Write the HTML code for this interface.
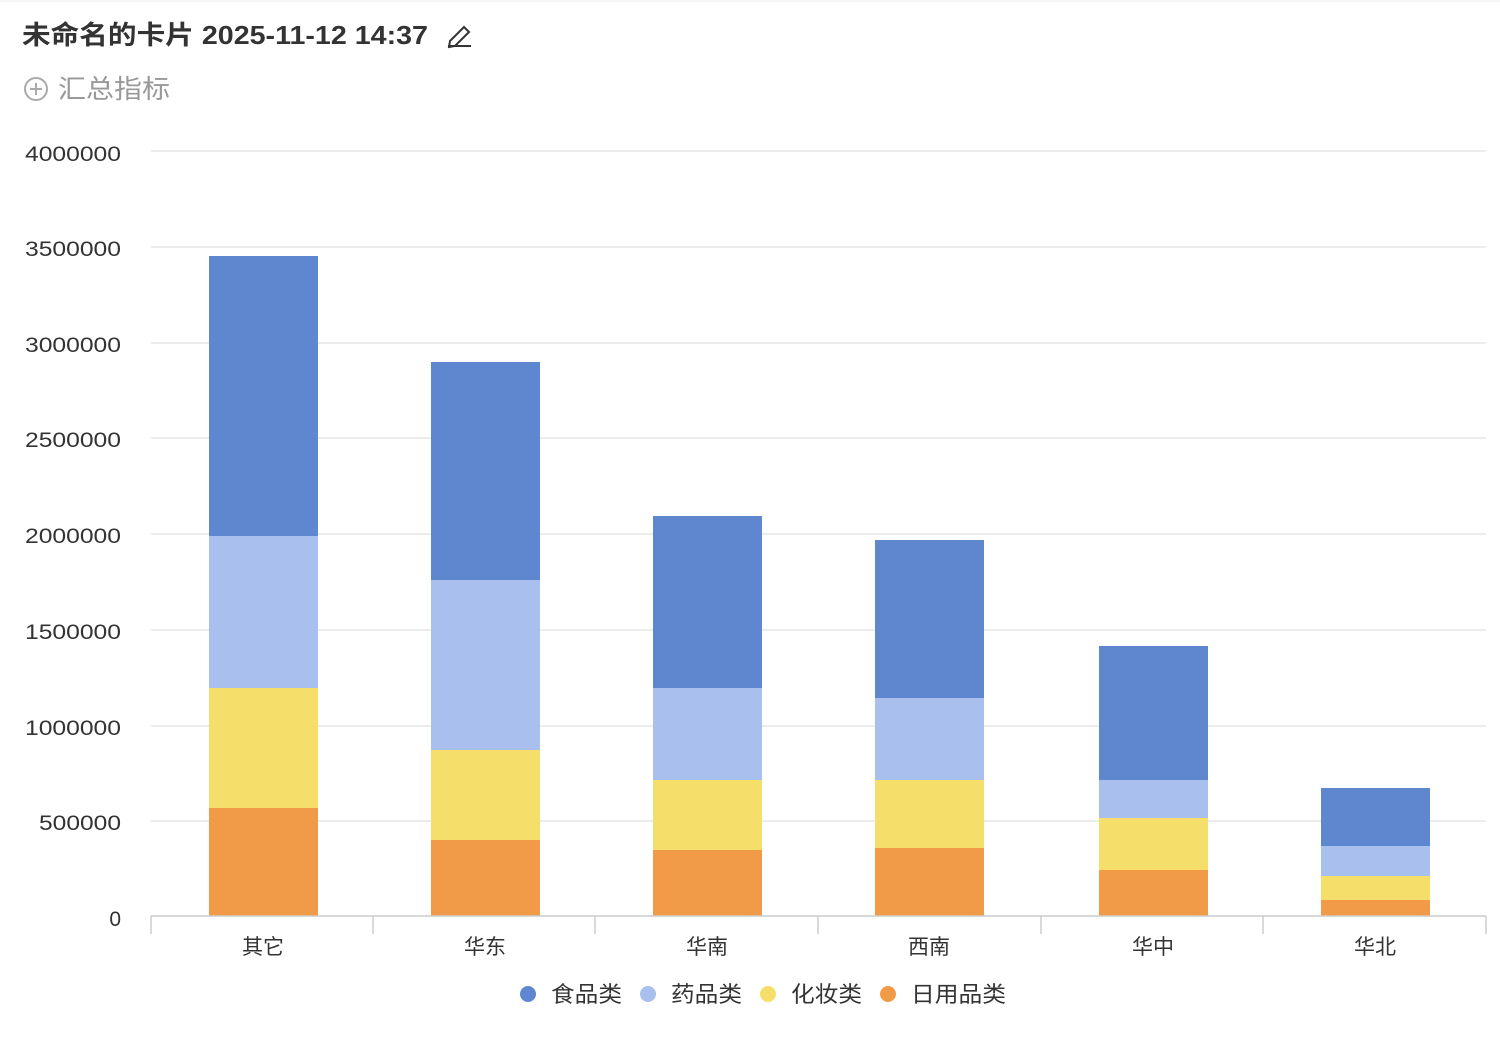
<!DOCTYPE html>
<html><head><meta charset="utf-8"><style>
body{margin:0;width:1500px;height:1036px;background:#fff;overflow:hidden;font-family:"Liberation Sans","Noto Sans CJK SC",sans-serif;}
</style></head><body>
<svg width="1500" height="1036" xmlns="http://www.w3.org/2000/svg" font-family="Liberation Sans, Noto Sans CJK SC, sans-serif">
<rect x="0" y="0" width="1500" height="1036" fill="#fff"/>
<line x1="0" y1="1" x2="1500" y2="1" stroke="#eee"/>
<text x="22" y="44" font-size="26" font-weight="bold" fill="#333" textLength="406" lengthAdjust="spacingAndGlyphs">未命名的卡片 2025-11-12 14:37</text>
<g stroke="#333" stroke-width="2" fill="none"><path d="M450 41 L464 27 L469 32 L455 46 L449 47 Z"/><line x1="448" y1="46" x2="471" y2="46"/></g>
<circle cx="36" cy="89" r="11" fill="none" stroke="#aaa" stroke-width="2"/>
<line x1="30" y1="89" x2="42" y2="89" stroke="#aaa" stroke-width="2"/><line x1="36" y1="83" x2="36" y2="95" stroke="#aaa" stroke-width="2"/>
<text x="58" y="98" font-size="26" fill="#999" textLength="112" lengthAdjust="spacingAndGlyphs">汇总指标</text>
<g stroke="#e5e5e5" stroke-width="1.5">
<line x1="151" y1="151" x2="1486" y2="151"/><line x1="151" y1="247" x2="1486" y2="247"/>
<line x1="151" y1="343" x2="1486" y2="343"/><line x1="151" y1="438" x2="1486" y2="438"/>
<line x1="151" y1="534" x2="1486" y2="534"/><line x1="151" y1="630" x2="1486" y2="630"/>
<line x1="151" y1="726" x2="1486" y2="726"/><line x1="151" y1="821" x2="1486" y2="821"/>
</g>
<g font-size="21" fill="#333">
<text x="25" y="161" textLength="96" lengthAdjust="spacingAndGlyphs">4000000</text>
<text x="25" y="256" textLength="96" lengthAdjust="spacingAndGlyphs">3500000</text>
<text x="25" y="352" textLength="96" lengthAdjust="spacingAndGlyphs">3000000</text>
<text x="25" y="447" textLength="96" lengthAdjust="spacingAndGlyphs">2500000</text>
<text x="25" y="543" textLength="96" lengthAdjust="spacingAndGlyphs">2000000</text>
<text x="25" y="639" textLength="96" lengthAdjust="spacingAndGlyphs">1500000</text>
<text x="25" y="735" textLength="96" lengthAdjust="spacingAndGlyphs">1000000</text>
<text x="39" y="830" textLength="82" lengthAdjust="spacingAndGlyphs">500000</text>
<text x="121" y="926" text-anchor="end">0</text>
</g>
<g>
<rect x="209" y="808" width="109" height="108" fill="#f19a48"/><rect x="209" y="688" width="109" height="120" fill="#f5df6a"/><rect x="209" y="536" width="109" height="152" fill="#a9bfee"/><rect x="209" y="256" width="109" height="280" fill="#5f87cf"/>
<rect x="431" y="840" width="109" height="76" fill="#f19a48"/><rect x="431" y="750" width="109" height="90" fill="#f5df6a"/><rect x="431" y="580" width="109" height="170" fill="#a9bfee"/><rect x="431" y="362" width="109" height="218" fill="#5f87cf"/>
<rect x="653" y="850" width="109" height="66" fill="#f19a48"/><rect x="653" y="780" width="109" height="70" fill="#f5df6a"/><rect x="653" y="688" width="109" height="92" fill="#a9bfee"/><rect x="653" y="516" width="109" height="172" fill="#5f87cf"/>
<rect x="875" y="848" width="109" height="68" fill="#f19a48"/><rect x="875" y="780" width="109" height="68" fill="#f5df6a"/><rect x="875" y="698" width="109" height="82" fill="#a9bfee"/><rect x="875" y="540" width="109" height="158" fill="#5f87cf"/>
<rect x="1099" y="870" width="109" height="46" fill="#f19a48"/><rect x="1099" y="818" width="109" height="52" fill="#f5df6a"/><rect x="1099" y="780" width="109" height="38" fill="#a9bfee"/><rect x="1099" y="646" width="109" height="134" fill="#5f87cf"/>
<rect x="1321" y="900" width="109" height="16" fill="#f19a48"/><rect x="1321" y="876" width="109" height="24" fill="#f5df6a"/><rect x="1321" y="846" width="109" height="30" fill="#a9bfee"/><rect x="1321" y="788" width="109" height="58" fill="#5f87cf"/>
</g>
<g stroke="#ccc" stroke-width="1.5">
<line x1="151" y1="916" x2="1486" y2="916"/>
<line x1="151" y1="916" x2="151" y2="934"/><line x1="373" y1="916" x2="373" y2="934"/><line x1="595" y1="916" x2="595" y2="934"/>
<line x1="818" y1="916" x2="818" y2="934"/><line x1="1041" y1="916" x2="1041" y2="934"/><line x1="1263" y1="916" x2="1263" y2="934"/><line x1="1486" y1="916" x2="1486" y2="934"/>
</g>
<g font-size="21" fill="#333" text-anchor="middle">
<text x="263" y="954">其它</text><text x="485" y="954">华东</text><text x="707" y="954">华南</text>
<text x="929" y="954">西南</text><text x="1153" y="954">华中</text><text x="1375" y="954">华北</text>
</g>
<g font-size="22" fill="#333">
<circle cx="528" cy="994" r="8" fill="#5f87cf"/><text x="551" y="1002" textLength="71" lengthAdjust="spacingAndGlyphs">食品类</text>
<circle cx="648" cy="994" r="8" fill="#a9bfee"/><text x="671" y="1002" textLength="71" lengthAdjust="spacingAndGlyphs">药品类</text>
<circle cx="768" cy="994" r="8" fill="#f5df6a"/><text x="791" y="1002" textLength="71" lengthAdjust="spacingAndGlyphs">化妆类</text>
<circle cx="888" cy="994" r="8" fill="#f19a48"/><text x="911" y="1002" textLength="95" lengthAdjust="spacingAndGlyphs">日用品类</text>
</g>
</svg>
</body></html>
